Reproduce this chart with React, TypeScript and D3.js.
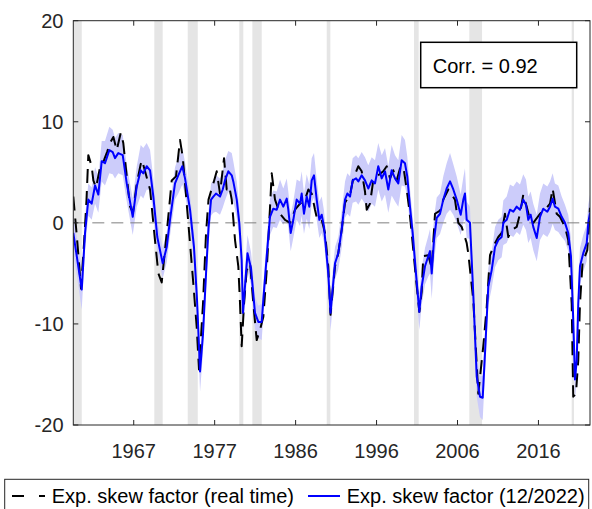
import React from "react";
import * as d3 from "d3";

// expected skew factor, 12/2022 vintage (blue) with its band half-width
const blueDates = [
  1959.84, 1960.87, 1961.27, 1961.67, 1962.08, 1962.49, 1962.89, 1963.3, 1963.7, 1964.23,
  1964.64, 1964.92, 1965.32, 1965.86, 1966.35, 1967.08, 1967.57, 1968.05, 1968.37, 1968.78,
  1969.19, 1969.59, 1970.07, 1970.73, 1971.22, 1971.62, 1972.23, 1972.63, 1973.12, 1973.45,
  1974.06, 1974.54, 1974.91, 1975.28, 1975.64, 1976.01, 1976.31, 1976.62, 1976.9, 1977.22,
  1977.71, 1978.04, 1978.32, 1978.72, 1979.14, 1979.33, 1979.75, 1980.06, 1980.35, 1980.51,
  1981.06, 1981.49, 1981.97, 1982.38, 1982.79, 1982.99, 1983.4, 1983.8, 1984.2, 1984.62,
  1985.02, 1985.42, 1985.84, 1986.03, 1986.32, 1986.64, 1987.05, 1987.46, 1987.66, 1987.94,
  1988.27, 1988.59, 1988.88, 1989.16, 1989.49, 1989.81, 1990.1, 1990.38, 1990.9, 1991.17,
  1991.72, 1992.12, 1992.53, 1992.94, 1993.22, 1993.55, 1993.87, 1994.28, 1994.56, 1994.97,
  1995.37, 1995.77, 1996.19, 1996.59, 1996.99, 1997.41, 1997.81, 1998.21, 1998.62, 1999.03,
  1999.43, 1999.84, 2000.24, 2000.52, 2000.85, 2001.18, 2001.58, 2001.99, 2002.28, 2002.68,
  2003.08, 2003.29, 2003.5, 2003.78, 2004.11, 2004.51, 2004.91, 2005.32, 2005.73, 2006.13,
  2006.54, 2007.03, 2007.35, 2007.55, 2007.76, 2008.16, 2008.56, 2008.98, 2009.38, 2009.71,
  2009.99, 2010.39, 2010.8, 2011.21, 2011.61, 2012.02, 2012.22, 2012.63, 2013.03, 2013.44,
  2013.85, 2014.25, 2014.65, 2014.98, 2015.26, 2015.55, 2015.87, 2016.29, 2016.69, 2017.09,
  2017.58, 2017.91, 2018.23, 2018.51, 2018.92, 2019.33, 2019.73, 2020.13, 2020.46, 2020.74,
  2020.95, 2021.16, 2021.35, 2021.56, 2021.96, 2022.38, 2022.57, 2022.78,
];
const blueValues = [
  -1.0, -6.6, -1.0, 2.3, 1.9, 3.7, 2.8, 6.1, 5.9, 7.2,
  7.0, 6.4, 6.9, 6.7, 3.9, 0.6, 3.6, 5.2, 4.9, 5.6,
  5.2, 2.6, -1.4, -4.0, -2.4, 0.3, 3.9, 4.7, 5.6, 4.4,
  1.3, -2.4, -7.6, -14.7, -11.0, -5.0, -0.5, 2.3, 2.6, 2.9,
  2.6, 3.3, 4.2, 5.1, 4.7, 4.1, 2.3, 0.0, -3.7, -8.9,
  -3.0, -4.5, -8.9, -9.8, -9.8, -7.6, -3.3, 0.6, 1.4, 1.3,
  2.3, 1.6, 2.4, 1.3, -1.0, 0.3, 2.3, 1.9, 2.9, 0.9,
  2.6, 1.6, 4.2, 4.7, 2.3, 0.3, 0.8, -0.4, -5.0, -8.9,
  -4.0, -3.0, -0.7, 2.3, 2.9, 2.6, 4.2, 4.4, 4.1, 4.7,
  4.2, 3.4, 4.2, 3.9, 5.6, 4.4, 5.1, 3.3, 5.2, 4.4,
  3.9, 6.2, 5.9, 4.6, 1.6, -1.0, -5.0, -8.8, -6.3, -4.3,
  -3.3, -2.8, -5.0, -1.7, 0.5, 0.9, 2.3, 3.4, 4.1, 3.3,
  2.3, 0.8, 2.3, 2.9, 0.3, 0.0, -7.0, -15.2, -17.2, -17.3,
  -12.9, -6.3, -4.7, -2.4, -1.7, -1.4, 0.0, 0.3, 1.3, 1.1,
  1.6, 1.3, 2.3, 1.8, 0.3, 0.8, -0.4, -1.5, 0.6, 1.4,
  1.1, 1.6, 2.4, 1.6, 1.4, 0.6, 0.0, -1.0, -3.3, -9.6,
  -15.5, -13.6, -8.0, -4.3, -3.0, -2.0, 0.0, 1.0,
];
const bandHalf = [
  1.8, 2.0, 1.6, 1.6, 1.6, 1.8, 1.8, 2.0, 2.2, 2.3,
  2.2, 2.0, 2.0, 2.0, 1.8, 1.8, 2.0, 2.5, 2.5, 2.3,
  2.0, 1.8, 1.6, 1.5, 1.5, 1.6, 1.6, 1.8, 1.8, 1.6,
  1.5, 1.5, 1.8, 2.0, 1.8, 1.6, 1.6, 1.6, 1.6, 1.8,
  1.8, 1.8, 2.0, 2.0, 2.2, 2.0, 1.8, 1.6, 1.6, 1.8,
  1.8, 1.6, 1.6, 1.6, 1.8, 1.6, 1.6, 1.8, 1.8, 1.8,
  2.0, 1.8, 2.0, 1.8, 1.8, 1.8, 2.0, 2.2, 2.2, 2.0,
  2.2, 2.2, 2.2, 2.2, 2.0, 1.8, 1.8, 1.6, 1.6, 1.8,
  1.6, 1.6, 1.8, 1.8, 2.0, 2.0, 2.2, 2.3, 2.3, 2.3,
  2.3, 2.3, 2.3, 2.3, 2.3, 2.3, 2.3, 2.3, 2.5, 2.3,
  2.3, 2.5, 2.3, 2.0, 1.8, 1.6, 1.6, 1.8, 1.8, 1.8,
  2.0, 2.2, 2.5, 2.2, 2.0, 2.0, 2.3, 2.5, 2.8, 2.5,
  2.3, 2.0, 2.2, 2.5, 1.8, 1.6, 1.8, 2.0, 2.0, 2.2,
  2.0, 1.8, 1.8, 2.0, 2.0, 2.0, 2.2, 2.3, 2.5, 2.5,
  2.5, 2.5, 2.5, 2.5, 2.3, 2.3, 2.3, 2.3, 2.3, 2.5,
  2.5, 2.5, 2.5, 2.3, 2.3, 2.0, 1.8, 1.8, 1.8, 2.0,
  2.0, 2.0, 2.0, 1.8, 1.8, 1.8, 1.8, 1.8,
];

// real-time series (black dashed)
const rtDates = [
  1959.84, 1960.29, 1960.78, 1961.15, 1961.45, 1961.67, 1962.08, 1962.28, 1962.61, 1963.1,
  1963.58, 1963.95, 1964.31, 1964.72, 1965.13, 1965.62, 1965.93, 1966.35, 1966.75, 1967.11,
  1967.57, 1968.05, 1968.21, 1968.58, 1969.19, 1969.79, 1970.2, 1970.61, 1971.22, 1971.83,
  1972.35, 1972.84, 1973.17, 1973.45, 1973.85, 1974.46, 1974.87, 1975.15, 1975.64, 1976.01,
  1976.31, 1976.9, 1977.31, 1977.71, 1978.2, 1978.53, 1978.84, 1979.14, 1979.54, 1979.94,
  1980.15, 1980.35, 1980.64, 1980.96, 1981.37, 1981.77, 1982.18, 1982.58, 1982.99, 1983.4,
  1983.62, 1983.8, 1984.01, 1984.41, 1985.02, 1985.63, 1986.24, 1986.85, 1987.46, 1988.06,
  1988.47, 1988.88, 1989.28, 1989.56, 1990.1, 1990.5, 1990.9, 1991.17, 1991.72, 1992.12,
  1992.53, 1992.94, 1993.55, 1993.95, 1994.56, 1994.97, 1995.37, 1995.58, 1995.98, 1996.38,
  1996.99, 1997.6, 1998.02, 1998.42, 1998.82, 1999.23, 1999.64, 2000.04, 2000.45, 2000.77,
  2001.06, 2001.58, 2001.99, 2002.28, 2002.47, 2003.08, 2003.5, 2003.9, 2004.51, 2004.91,
  2005.52, 2005.93, 2006.33, 2006.74, 2007.15, 2007.76, 2007.95, 2008.56, 2009.17, 2009.78,
  2010.2, 2010.6, 2011.08, 2011.61, 2012.02, 2012.42, 2012.83, 2013.24, 2013.85, 2014.25,
  2014.65, 2015.07, 2015.47, 2015.87, 2016.69, 2017.3, 2017.91, 2018.23, 2018.72, 2019.12,
  2019.73, 2020.13, 2020.55, 2020.74, 2021.07, 2021.35, 2021.56, 2021.89, 2022.17, 2022.45,
  2022.78,
];
const rtValues = [
  2.6, -1.5, -6.5, -2.0, 2.3, 6.7, 5.6, 4.2, 3.5, 5.5,
  6.2, 7.0, 7.9, 8.5, 7.2, 8.9, 7.9, 4.6, 1.6, 1.0,
  3.9, 5.8, 6.2, 5.1, 3.3, -1.7, -5.0, -5.9, -1.0, 4.2,
  4.6, 8.2, 6.5, 3.9, 0.0, -6.0, -10.3, -14.5, -8.0, -1.0,
  2.3, 3.9, 5.1, 2.9, 6.4, 3.3, 3.6, 2.3, -1.7, -4.3,
  -8.0, -12.2, -8.0, -4.7, -4.0, -8.0, -11.6, -10.6, -9.3, -4.7,
  -1.4, 1.5, 4.9, 2.3, 0.9, 0.3, 0.0, 1.3, 1.9, 2.3,
  3.3, 2.9, 1.3, 0.3, 0.3, -1.0, -4.3, -9.1, -4.3, -3.0,
  -0.7, 2.0, 2.8, 4.4, 5.6, 5.1, 3.1, 1.3, 1.9, 4.2,
  4.7, 5.1, 5.6, 4.4, 5.2, 4.2, 5.4, 5.6, 3.3, 1.3,
  -1.0, -5.5, -8.8, -6.8, -3.3, -3.2, -4.5, 0.9, 1.2, 2.3,
  3.3, 2.8, 2.3, 0.0, -0.4, -2.0, -3.0, -7.6, -16.9, -12.2,
  -8.3, -3.2, -2.2, -1.4, -1.0, 0.9, -1.4, -0.7, -0.4, 0.9,
  2.8, 1.6, 0.3, 0.0, 0.9, 1.3, 1.9, 3.4, 0.9, 0.6,
  -0.4, -1.7, -8.0, -17.2, -16.9, -13.6, -8.0, -3.7, -3.3, -2.7,
  1.5,
];

// NBER recession shading (start, end)
const recessionStart = [1959.84, 1969.71, 1973.78, 1980.06, 1981.65, 1990.71, 2001.34, 2008.08, 2020.55];
const recessionEnd = [1960.87, 1970.73, 1975.0, 1980.55, 1982.79, 1991.15, 2001.91, 2009.63, 2020.83];

const xTickPos = [1967.2, 1977.06, 1986.92, 1996.78, 2006.64, 2016.5];
const xTickLabels = ["1967", "1977", "1986", "1996", "2006", "2016"];
const yTicks = [-20, -10, 0, 10, 20];

const legendLabels = ["Exp. skew factor (real time)", "Exp. skew factor (12/2022)"];
const corrText = "Corr. = 0.92";

const W = 592;
const H = 509;
const plot = { left: 73.3, right: 590, top: 20.7, bottom: 425 };
const axisColor = "#262626";
const font = "'Liberation Sans', Arial, Helvetica, sans-serif";

export default function App() {
  const x = d3.scaleLinear().domain([1959.84, 2022.78]).range([plot.left, plot.right]);
  const y = d3.scaleLinear().domain([-20, 20]).range([plot.bottom, plot.top]);

  const blue = blueDates.map((d, i) => ({ d, v: blueValues[i], h: bandHalf[i] ?? 2 }));
  const rt = rtDates.map((d, i) => ({ d, v: rtValues[i] }));

  const line = d3
    .line<{ d: number; v: number }>()
    .x((p) => x(p.d))
    .y((p) => y(p.v));
  const band = d3
    .area<{ d: number; v: number; h: number }>()
    .x((p) => x(p.d))
    .y0((p) => y(p.v - p.h))
    .y1((p) => y(p.v + p.h));

  const tick = 5;

  return (
    <svg
      width={W}
      height={H}
      style={{ position: "absolute", left: 0, top: 0, background: "#fff" }}
      fontFamily={font}
    >
      <defs>
        <clipPath id="plotclip">
          <rect x={plot.left} y={plot.top} width={plot.right - plot.left} height={plot.bottom - plot.top} />
        </clipPath>
      </defs>

      <g clipPath="url(#plotclip)">
        {recessionStart.map((s, i) => (
          <rect
            key={i}
            x={x(s)}
            y={plot.top}
            width={x(recessionEnd[i]) - x(s)}
            height={plot.bottom - plot.top}
            fill="#e5e5e5"
          />
        ))}
        <path d={band(blue) ?? ""} fill="#ccccfa" stroke="none" />
        <line
          x1={plot.left}
          x2={plot.right}
          y1={y(0)}
          y2={y(0)}
          stroke="#7f7f7f"
          strokeWidth={1}
          strokeDasharray="12,7"
        />
        <path
          d={line(rt) ?? ""}
          fill="none"
          stroke="#000"
          strokeWidth={2}
          strokeDasharray="14,8"
          strokeLinejoin="round"
        />
        <path d={line(blue) ?? ""} fill="none" stroke="#0000ff" strokeWidth={2} strokeLinejoin="round" />
      </g>

      {/* axes box */}
      <rect
        x={plot.left}
        y={plot.top}
        width={plot.right - plot.left}
        height={plot.bottom - plot.top}
        fill="none"
        stroke={axisColor}
        strokeWidth={1}
      />
      {xTickPos.map((t, i) => (
        <g key={"x" + i}>
          <line x1={x(t)} x2={x(t)} y1={plot.bottom} y2={plot.bottom - tick} stroke={axisColor} />
          <line x1={x(t)} x2={x(t)} y1={plot.top} y2={plot.top + tick} stroke={axisColor} />
          <text x={x(t)} y={458} textAnchor="middle" fontSize={20} fill={axisColor}>
            {xTickLabels[i]}
          </text>
        </g>
      ))}
      {yTicks.map((t) => (
        <g key={"y" + t}>
          <line x1={plot.left} x2={plot.left + tick} y1={y(t)} y2={y(t)} stroke={axisColor} />
          <line x1={plot.right} x2={plot.right - tick} y1={y(t)} y2={y(t)} stroke={axisColor} />
          <text x={63.5} y={y(t) + 7} textAnchor="end" fontSize={20} fill={axisColor}>
            {t}
          </text>
        </g>
      ))}

      {/* correlation box */}
      <rect x={420.7} y={42.3} width={156} height={45.4} fill="#fff" stroke="#000" strokeWidth={1.5} />
      <text x={432.7} y={72.7} fontSize={20} fill="#000">
        {corrText}
      </text>

      {/* legend */}
      <rect x={4.7} y={479.3} width={584} height={40} fill="#fff" stroke={axisColor} strokeWidth={1} />
      <line x1={12} x2={45} y1={496} y2={496} stroke="#000" strokeWidth={2} strokeDasharray="12,15" />
      <text x={51.7} y={503} fontSize={20} fill="#000">
        {legendLabels[0]}
      </text>
      <line x1={308} x2={340} y1={496} y2={496} stroke="#0000ff" strokeWidth={2} />
      <text x={346.7} y={503} fontSize={20} fill="#000">
        {legendLabels[1]}
      </text>
    </svg>
  );
}
